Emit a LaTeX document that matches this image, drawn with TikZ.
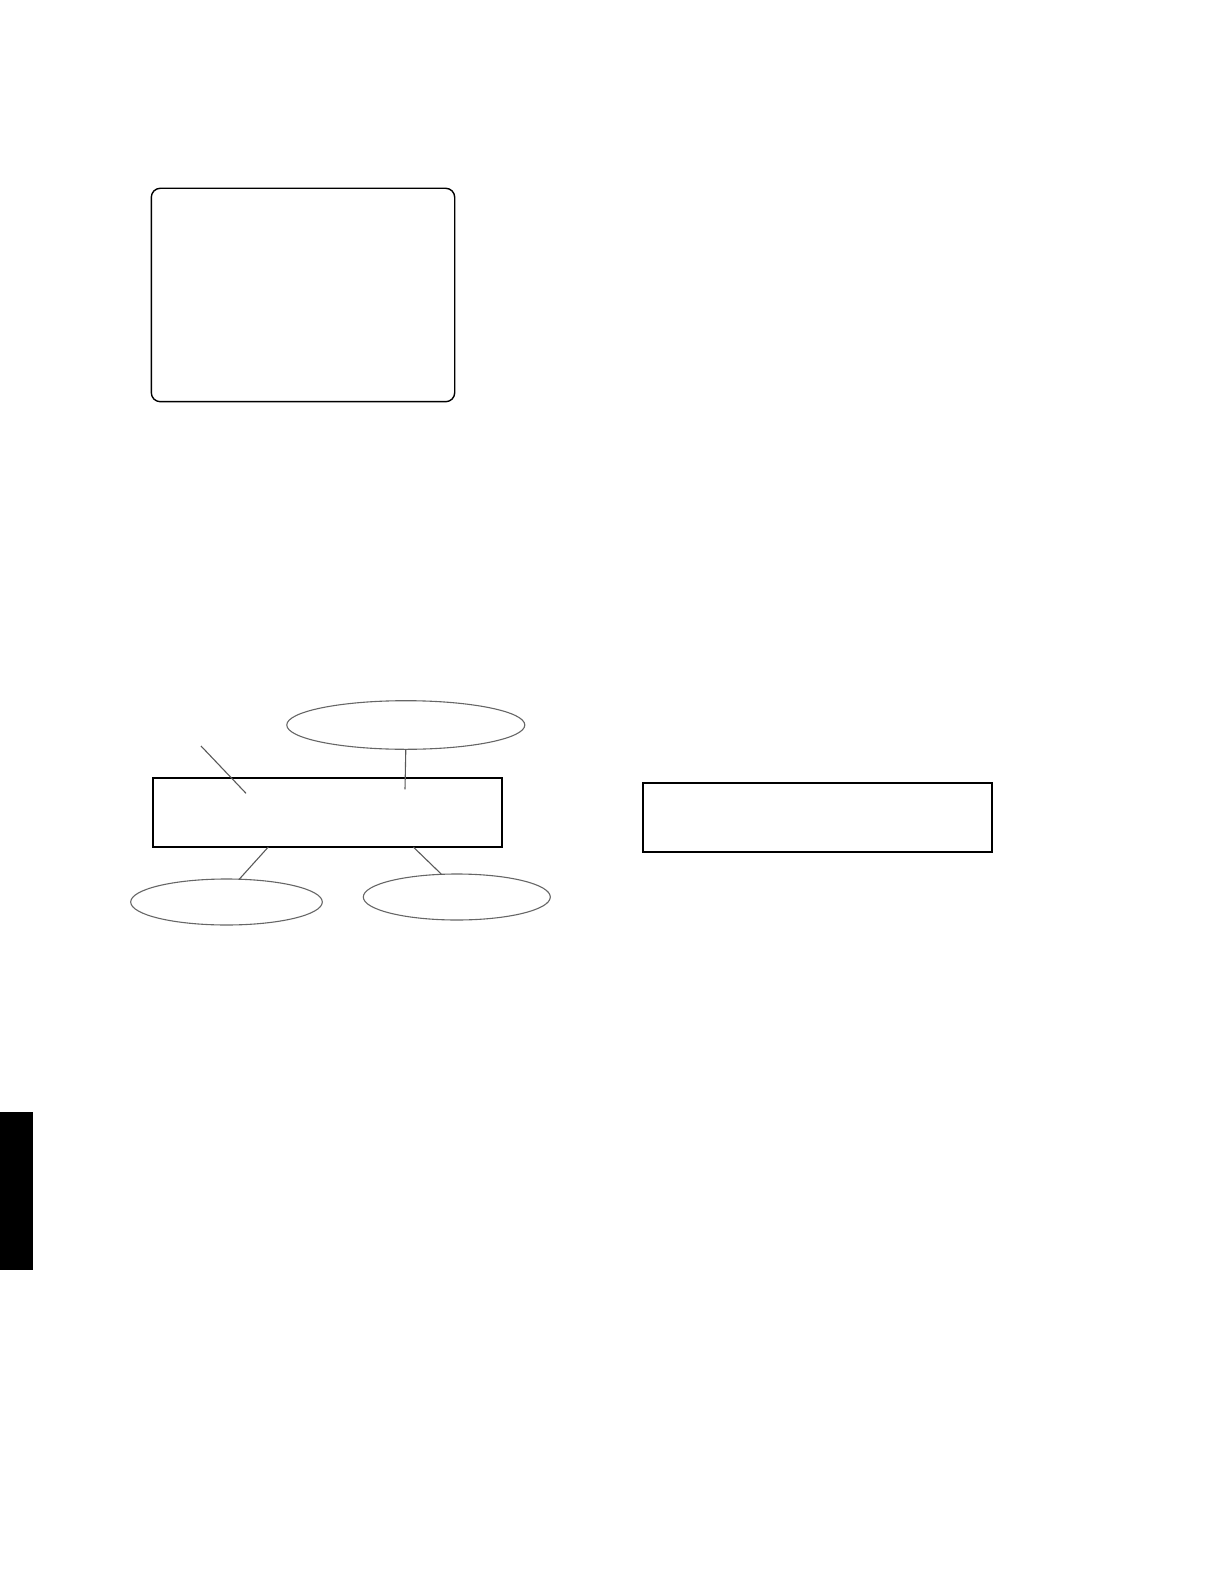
\documentclass[tikz,border=0pt]{standalone}
\usetikzlibrary{shapes.geometric}
\begin{document}
\begin{tikzpicture}[x=0.5pt,y=-0.5pt,
  boxa/.style={draw=black,line width=0.85pt,rectangle,inner sep=0pt,outer sep=0pt},
  rbox/.style={draw=black,line width=0.7pt,rectangle,rounded corners=4.5pt,inner sep=0pt,outer sep=0pt},
  oval/.style={draw=black!60,line width=0.55pt,ellipse,inner sep=0pt,outer sep=0pt},
  conn/.style={draw=black!65,line width=0.55pt}]
\useasboundingbox (0,0) rectangle (1218,1588);
% rounded frame
\node[rbox,minimum width=151.7pt,minimum height=106.7pt] (frame) at (303,295) {};
% left rectangle
\node[boxa,minimum width=174.5pt,minimum height=34.3pt] (ra) at (327.8,812.6) {};
% right rectangle
\node[boxa,minimum width=174.5pt,minimum height=34.5pt] (rb) at (817.5,817.5) {};
% ellipses
\node[oval,minimum width=119pt,minimum height=24.3pt] (et) at (405.8,725) {};
\node[oval,minimum width=95.8pt,minimum height=23pt] (el) at (226.5,902) {};
\node[oval,minimum width=93.5pt,minimum height=23pt] (er) at (456.8,897) {};
% black tab
\node[fill=black,inner sep=0pt,minimum width=16.5pt,minimum height=79pt] (tab) at (16.5,1191) {};
% connector points
\coordinate (c1) at (405,789.3);
\coordinate (d1) at (201,746);
\coordinate (d2) at (246,793.3);
\coordinate (b1) at (268.3,847);
\coordinate (b2) at (239,879.5);
\coordinate (b3) at (413.3,847);
\coordinate (b4) at (441.7,874.5);
\draw[conn] (et.south) -- (c1);
\draw[conn] (d1) -- (d2);
\draw[conn] (b1) -- (b2);
\draw[conn] (b3) -- (b4);
\end{tikzpicture}
\end{document}
